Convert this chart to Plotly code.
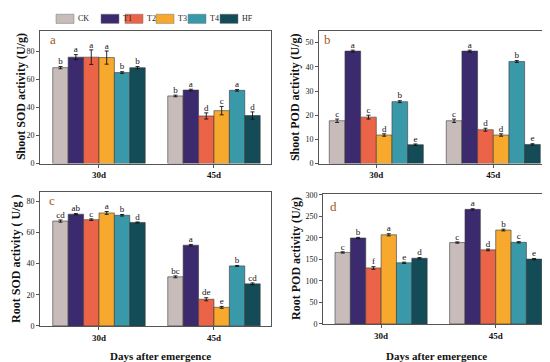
import plotly.graph_objects as go

# ---------------- data ----------------
groups = ["30d", "45d"]
treatments = ["CK", "T1", "T2", "T3", "T4", "HF"]
colors = ["#C8BCBA", "#3C2A6E", "#EC6447", "#F6A92D", "#3A99A8", "#134B57"]

shoot_sod_30 = [68.5, 76.0, 76.0, 75.7, 65.0, 68.5]
shoot_sod_45 = [48.3, 52.5, 34.0, 37.8, 52.3, 34.3]
shoot_sod_err_30 = [0.8, 1.8, 5.2, 4.7, 0.6, 0.8]
shoot_sod_err_45 = [0.6, 0.6, 2.2, 3.0, 0.6, 2.6]
shoot_sod_sig_30 = ["b", "a", "a", "a", "b", "b"]
shoot_sod_sig_45 = ["b", "a", "d", "c", "a", "d"]

shoot_pod_30 = [17.7, 46.5, 19.2, 11.8, 25.6, 7.8]
shoot_pod_45 = [17.7, 46.5, 14.0, 11.8, 42.2, 7.9]
shoot_pod_err_30 = [0.7, 0.4, 0.8, 0.5, 0.4, 0.3]
shoot_pod_err_45 = [0.7, 0.4, 0.6, 0.5, 0.4, 0.3]
shoot_pod_sig_30 = ["c", "a", "c", "d", "b", "e"]
shoot_pod_sig_45 = ["c", "a", "d", "d", "b", "e"]

root_sod_30 = [67.3, 71.7, 68.2, 72.5, 71.0, 66.4]
root_sod_45 = [31.5, 51.8, 17.1, 11.9, 38.5, 27.0]
root_sod_err_30 = [0.7, 0.4, 0.5, 0.9, 0.5, 0.3]
root_sod_err_45 = [0.6, 0.5, 1.0, 0.6, 0.3, 0.6]
root_sod_sig_30 = ["cd", "ab", "c", "a", "b", "d"]
root_sod_sig_45 = ["bc", "a", "de", "e", "b", "cd"]

root_pod_30 = [166.0, 199.5, 130.0, 207.0, 142.0, 152.5]
root_pod_45 = [189.0, 266.0, 172.0, 218.0, 189.5, 150.5]
root_pod_err_30 = [1.5, 1.5, 3.0, 2.5, 1.5, 1.5]
root_pod_err_45 = [1.5, 1.5, 2.0, 2.0, 1.5, 1.5]
root_pod_sig_30 = ["c", "b", "f", "a", "e", "d"]
root_pod_sig_45 = ["c", "a", "d", "b", "c", "e"]

panel_letters = ["a", "b", "c", "d"]
y_titles = ["Shoot SOD activity (U/g)", "Shoot POD activity (U/g)",
            "Root SOD activity ( U/g )", "Root POD activity (U/g)"]
x_title = "Days after emergence"

# ---------------- layout helpers ----------------
W, H = 550, 362
SERIF = "Liberation Serif"
BAR_W = 0.134


def px(x):
    return x / W


def py(y):
    return 1 - y / H


panels = [
    dict(v30=shoot_sod_30, v45=shoot_sod_45, e30=shoot_sod_err_30, e45=shoot_sod_err_45,
         s30=shoot_sod_sig_30, s45=shoot_sod_sig_45,
         dom=(32, 263, 20, 156), xr=[-0.513, 1.496], yr=[0, 95], dt=20,
         ytx=13, letter_xy=(45, 29)),
    dict(v30=shoot_pod_30, v45=shoot_pod_45, e30=shoot_pod_err_30, e45=shoot_pod_err_45,
         s30=shoot_pod_sig_30, s45=shoot_pod_sig_45,
         dom=(311, 542, 20, 156), xr=[-0.49, 1.485], yr=[0, 55], dt=10,
         ytx=287, letter_xy=(319, 29)),
    dict(v30=root_sod_30, v45=root_sod_45, e30=root_sod_err_30, e45=root_sod_err_45,
         s30=root_sod_sig_30, s45=root_sod_sig_45,
         dom=(32, 263, 185, 322), xr=[-0.513, 1.496], yr=[0, 86], dt=20,
         ytx=8, letter_xy=(44, 194)),
    dict(v30=root_pod_30, v45=root_pod_45, e30=root_pod_err_30, e45=root_pod_err_45,
         s30=root_pod_sig_30, s45=root_pod_sig_45,
         dom=(315, 541, 187, 320), xr=[-0.507, 1.465], yr=[0, 302], dt=50,
         ytx=288, letter_xy=(325, 200)),
]

fig = go.Figure()
annotations = []
shapes = []

for k, p in enumerate(panels):
    xa = "x" if k == 0 else f"x{k+1}"
    ya = "y" if k == 0 else f"y{k+1}"
    lx, ly, lt = [], [], []
    for j, name in enumerate(treatments):
        off = (j - 2.5) * BAR_W
        xs = [0 + off, 1 + off]
        ys = [p["v30"][j], p["v45"][j]]
        es = [p["e30"][j], p["e45"][j]]
        fig.add_trace(go.Bar(
            x=xs, y=ys, width=BAR_W, name=name, showlegend=False,
            marker=dict(color=colors[j], line=dict(color="#3a3a3a", width=0.6)),
            error_y=dict(type="data", array=es, color="#111111", thickness=0.9, width=2),
            xaxis=xa, yaxis=ya,
        ))
        lx += xs
        ly += [ys[0] + es[0], ys[1] + es[1]]
        lt += [p["s30"][j], p["s45"][j]]
    fig.add_trace(go.Scatter(
        x=lx, y=ly, text=lt, mode="text", textposition="top center",
        textfont=dict(family=SERIF, size=9, color="#111111"),
        showlegend=False, cliponaxis=False, hoverinfo="skip",
        xaxis=xa, yaxis=ya,
    ))

    x0, x1, y0, y1 = p["dom"]
    axis_common = dict(showline=True, mirror=True, linecolor="#555555", linewidth=1,
                       showgrid=False, zeroline=False, ticks="outside", ticklen=3,
                       tickcolor="#555555")
    xkey = "xaxis" if k == 0 else f"xaxis{k+1}"
    ykey = "yaxis" if k == 0 else f"yaxis{k+1}"
    fig.update_layout(**{
        xkey: dict(domain=[px(x0), px(x1)], range=p["xr"], anchor=ya,
                   tickvals=[0, 1], ticktext=groups,
                   tickfont=dict(family=SERIF, size=9, color="#111111", weight="bold"),
                   **axis_common),
        ykey: dict(domain=[py(y1), py(y0)], range=p["yr"], anchor=xa, dtick=p["dt"],
                   tickfont=dict(family=SERIF, size=8, color="#222222"),
                   **axis_common),
    })

    annotations.append(dict(x=px(p["letter_xy"][0]), y=py(p["letter_xy"][1]),
                            xref="paper", yref="paper", text=panel_letters[k],
                            xanchor="center", yanchor="middle", showarrow=False,
                            font=dict(family=SERIF, size=13, color="#A0582A")))
    annotations.append(dict(x=px(p["ytx"]), y=py((y0 + y1) / 2), xref="paper", yref="paper",
                            text=y_titles[k], textangle=-90, showarrow=False,
                            xanchor="center", yanchor="middle",
                            font=dict(family=SERIF, size=12, color="#111111", weight="bold")))

for cx in (152, 428):
    annotations.append(dict(x=px(cx), y=py(353), xref="paper", yref="paper", text=x_title,
                            showarrow=False, xanchor="center", yanchor="middle",
                            font=dict(family=SERIF, size=11, color="#111111", weight="bold")))

# manual legend
leg_x0 = [48, 93, 117, 148, 180, 212]
for j, name in enumerate(treatments):
    shapes.append(dict(type="rect", xref="paper", yref="paper",
                       x0=px(leg_x0[j]), x1=px(leg_x0[j] + 18), y0=py(12.7), y1=py(3.3),
                       fillcolor=colors[j], line=dict(color="#777777", width=0.5)))
    annotations.append(dict(x=px(leg_x0[j] + 20), y=py(8), xref="paper", yref="paper",
                            text=name, showarrow=False, xanchor="left", yanchor="middle",
                            font=dict(family=SERIF, size=8, color="#222222")))

fig.update_layout(
    width=W, height=H, margin=dict(l=0, r=0, t=0, b=0),
    paper_bgcolor="white", plot_bgcolor="white",
    barmode="overlay", showlegend=False,
    annotations=annotations, shapes=shapes,
)

fig.write_html("out.html")
